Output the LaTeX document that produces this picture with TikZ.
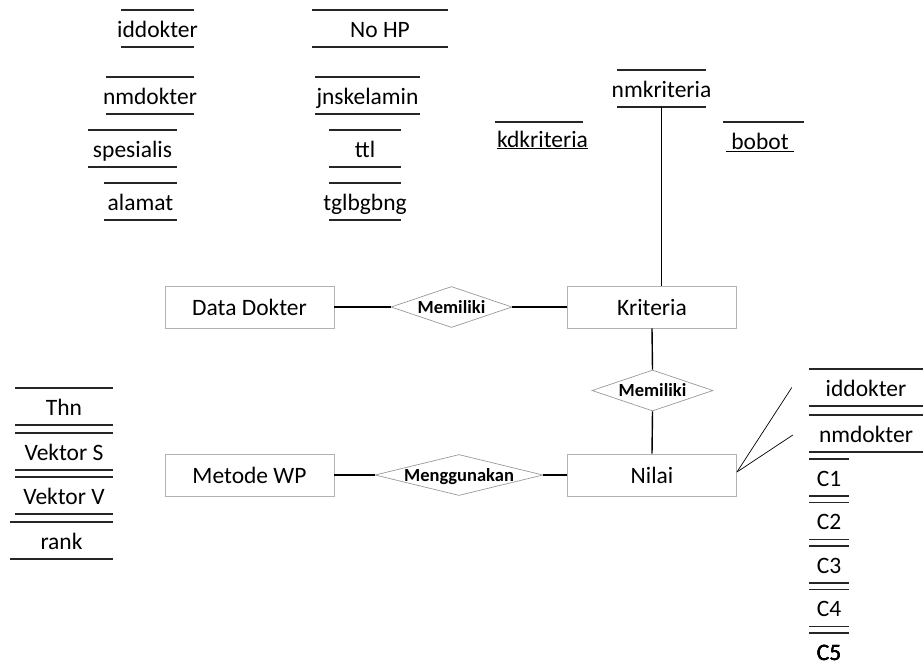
\documentclass[tikz,border=0pt]{standalone}
\usepackage{fontspec}
\setmainfont{Carlito}
\usetikzlibrary{shapes.geometric, positioning}

\newcommand{\attr}[5]{%
  \node[attr, minimum width={(#3-#2)*1pt}] (#1) at ({(#2+#3)/2},{#4+18.5}) {#5};
  \draw[attr_line] (#2,{#4}) -- (#3,{#4}) (#2,{#4+37}) -- (#3,{#4+37});
}

\begin{document}
\begin{tikzpicture}[
    x=1pt, y=-1pt,
    every node/.style={font=\fontsize{23.5}{28}\selectfont},
    entity/.style={rectangle, draw=black!30, line width=0.9pt, minimum width=169pt, minimum height=42pt, inner sep=0pt, text height=17pt, text depth=0pt},
    rel/.style={diamond, draw=black!40, line width=0.7pt, inner sep=0pt, minimum height=41pt},
    rel_text/.style={font=\bfseries\fontsize{18.5}{22}\selectfont, inner sep=0pt, text height=12.6pt, text depth=0pt},
    attr/.style={inner sep=0pt, minimum height=37pt, text height=17pt, text depth=0pt},
    attr_line/.style={line width=1.1pt, black!85},
    link/.style={line width=1.4pt},
    thin_link/.style={line width=0.7pt}
]
\useasboundingbox (0,0) rectangle (923,670);
\node[entity] (data_dokter) at (249.5,307) {Data Dokter};
\node[rel, minimum width=121pt, label={[rel_text]center:Memiliki}] (memiliki_a) at (451.5,307) {};
\node[entity] (kriteria) at (652,307) {Kriteria};
\node[rel, minimum width=121pt, label={[rel_text]center:Memiliki}] (memiliki_b) at (652.5,390.5) {};
\node[entity] (metode_wp) at (249.5,475) {Metode WP};
\node[rel, minimum width=168pt, label={[rel_text]center:Menggunakan}] (menggunakan) at (459,475) {};
\node[entity] (nilai) at (652,475) {Nilai};
\attr{iddokter}{121}{194}{10}{iddokter}
\attr{nmdokter}{106}{194}{77}{nmdokter}
\attr{spesialis}{88}{177}{130}{spesialis}
\attr{alamat}{104}{177}{183}{alamat}
\attr{no_hp}{312}{448}{10}{No HP}
\attr{jnskelamin}{315}{420}{77}{jnskelamin}
\attr{ttl}{329}{401}{130}{ttl}
\attr{tglbgbng}{329}{401}{183}{tglbgbng}
\attr{nmkriteria}{617}{706}{70}{nmkriteria}
\node[attr] (kdkriteria) at (542.5,138.5) {\underline{kdkriteria}};
\draw[attr_line] (495,122) -- (583,122);
\node[attr] (bobot) at (760,141) {\underline{~bobot~}};
\draw[attr_line] (723,122) -- (804,122);
\attr{thn}{15}{113}{388}{Thn}
\attr{vektor_s}{15}{113}{433}{Vektor S}
\attr{vektor_v}{15}{113}{477}{Vektor V}
\attr{rank}{10}{113}{522}{rank}
\attr{iddokter_n}{809}{923}{369}{iddokter}
\attr{nmdokter_n}{809}{923}{415}{nmdokter}
\foreach \i in {1,...,4}
  \attr{c\i}{809}{849}{459+43.5*(\i-1)}{C\i}
\node[attr] (c5) at (829,651.5) {C5};
\draw[attr_line] (809,633) -- (849,633);
\draw[link] (data_dokter) -- (memiliki_a);
\draw[link] (memiliki_a) -- (kriteria);
\draw[link] (nmkriteria.south) -- (nmkriteria.south |- kriteria.north);
\draw[link] (kriteria.south) -- (memiliki_b.north);
\draw[link] (memiliki_b.south) -- (nilai.north);
\draw[link] (metode_wp) -- (menggunakan);
\draw[link] (menggunakan) -- (nilai);
\draw[thin_link] ([yshift=3pt]nilai.east) -- ([xshift=-17pt]iddokter_n.west);
\draw[thin_link] ([yshift=3pt]nilai.east) -- ([xshift=-16pt, yshift=-1.5pt]nmdokter_n.west);
\end{tikzpicture}
\end{document}
